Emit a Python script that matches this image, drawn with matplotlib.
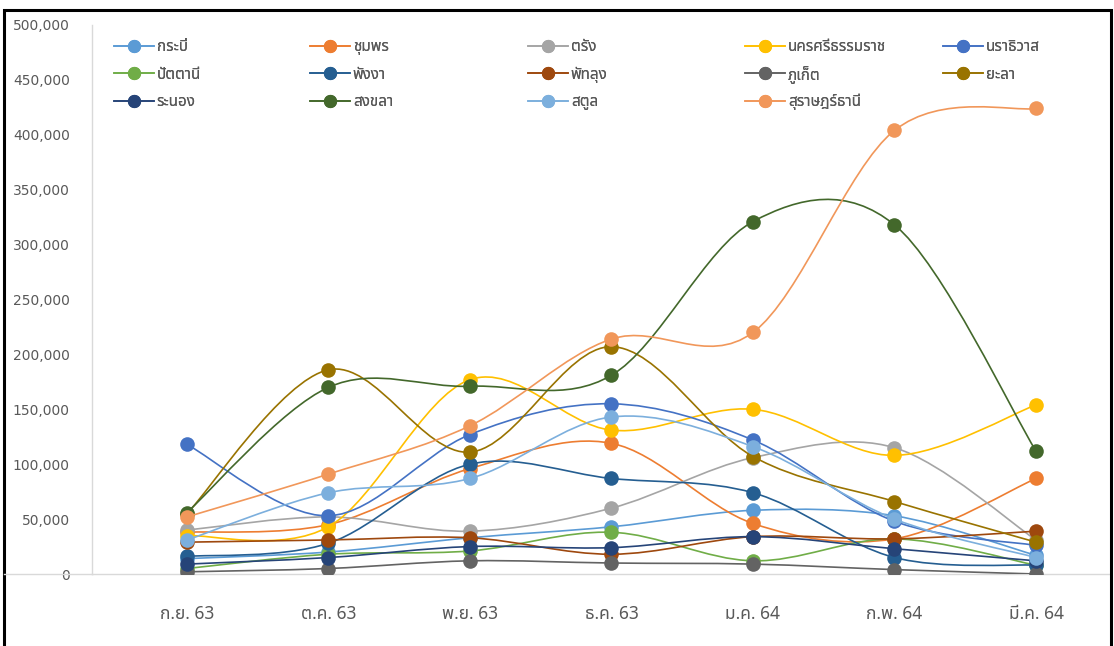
import matplotlib
matplotlib.use("Agg")
import matplotlib.pyplot as plt
from matplotlib import font_manager
from matplotlib.ft2font import FT2Font
from matplotlib.path import Path
from matplotlib.patches import PathPatch, Rectangle
from matplotlib.lines import Line2D
from matplotlib.ticker import FuncFormatter

# -----------------------------------------------------------------------------
# Data: monthly figures per province
# -----------------------------------------------------------------------------
months = ["ก.ย. 63", "ต.ค. 63", "พ.ย. 63", "ธ.ค. 63", "ม.ค. 64", "ก.พ. 64", "มี.ค. 64"]

provinces = ["กระบี่", "ชุมพร", "ตรัง", "นครศรีธรรมราช", "นราธิวาส",
             "ปัตตานี", "พังงา", "พัทลุง", "ภูเก็ต", "ยะลา",
             "ระนอง", "สงขลา", "สตูล", "สุราษฎร์ธานี"]

krabi = [14000, 20000, 33000, 43000, 58000, 53000, 17000]
chumphon = [38000, 45000, 96000, 119000, 46000, 32000, 87000]
trang = [40000, 52000, 39000, 60000, 106000, 115000, 31000]
nakhon_si = [35000, 43000, 177000, 131000, 150000, 108000, 154000]
narathiwat = [118000, 53000, 127000, 155000, 122000, 48000, 26000]
pattani = [5000, 18000, 21000, 38000, 12000, 32000, 8000]
phangnga = [16000, 28000, 100000, 87000, 74000, 15000, 8000]
phatthalung = [29000, 31000, 33000, 18000, 34000, 32000, 39000]
phuket = [2000, 5000, 12000, 10000, 9000, 4000, 0]
yala = [55000, 186000, 111000, 207000, 107000, 66000, 29000]
ranong = [9000, 15000, 25000, 24000, 34000, 23000, 12000]
songkhla = [56000, 170000, 171000, 181000, 321000, 318000, 112000]
satun = [31000, 74000, 87000, 143000, 116000, 50000, 15000]
surat = [52000, 91000, 135000, 214000, 220000, 404000, 424000]

series = [krabi, chumphon, trang, nakhon_si, narathiwat, pattani, phangnga,
          phatthalung, phuket, yala, ranong, songkhla, satun, surat]

colors = ["#5B9BD5", "#ED7D31", "#A5A5A5", "#FFC000", "#4472C4", "#70AD47",
          "#255E91", "#9E480E", "#636363", "#997300", "#264478", "#43682B",
          "#7CAFDD", "#F1975A"]


# -----------------------------------------------------------------------------
# Font with Thai glyphs
# -----------------------------------------------------------------------------
def thai_family():
    preferred = ["Tahoma", "Leelawadee UI", "Noto Sans Thai", "Noto Sans Thai UI",
                 "Noto Sans Thai Looped", "Loma", "Garuda", "Sarabun", "Kinnari"]
    found = {}
    for f in font_manager.fontManager.ttflist:
        try:
            if FT2Font(f.fname).get_char_index(ord("ก")):
                found.setdefault(f.name, f.fname)
        except Exception:
            pass
    for name in preferred:
        if name in found:
            return name
    return next(iter(found), "DejaVu Sans")


THAI = thai_family()
plt.rcParams["font.family"] = [THAI, "DejaVu Sans"]

TEXT = "#595959"
AXIS = "#D9D9D9"


def smooth_path(xs, ys):
    # Bezier segments through every point (Catmull-Rom style tangents)
    pts = list(zip(xs, ys))
    n = len(pts)
    verts = [pts[0]]
    codes = [Path.MOVETO]
    for i in range(n - 1):
        p0 = pts[max(i - 1, 0)]
        p1 = pts[i]
        p2 = pts[i + 1]
        p3 = pts[min(i + 2, n - 1)]
        c1 = (p1[0] + (p2[0] - p0[0]) / 6, p1[1] + (p2[1] - p0[1]) / 6)
        c2 = (p2[0] - (p3[0] - p1[0]) / 6, p2[1] - (p3[1] - p1[1]) / 6)
        verts += [c1, c2, p2]
        codes += [Path.CURVE4] * 3
    return Path(verts, codes)


W, H = 1114, 646
fig = plt.figure(figsize=(W / 100, H / 100), dpi=100)
ax = fig.add_axes([92 / W, (H - 574) / H, (1111 - 92) / W, (574 - 25) / H])

x = list(range(len(months)))
handles = []
for i, (name, vals, col) in enumerate(zip(provinces, series, colors)):
    z = 2 + i * 0.1
    ax.add_patch(PathPatch(smooth_path(x, vals), facecolor="none",
                           edgecolor=col, lw=1.2, zorder=z))
    ax.plot(x, vals, "o", color=col, ms=10.5, mec=col, mew=0, zorder=z + 0.05)
    handles.append(Line2D([], [], color=col, lw=1.2, marker="o", ms=9.5, mew=0))

ax.set_xlim(-0.671, 6.53)
ax.set_ylim(0, 500000)
ax.set_yticks(range(0, 500001, 50000))
ax.yaxis.set_major_formatter(FuncFormatter(lambda v, p: f"{v:,.0f}"))
ax.set_xticks(x)
ax.set_xticklabels(months)

ax.tick_params(axis="y", length=0, pad=16, labelsize=10, labelcolor=TEXT)
ax.tick_params(axis="x", length=0, pad=22, labelsize=12.5, labelcolor=TEXT)
for lab in ax.get_yticklabels():
    lab.set_family("DejaVu Sans")

for s in ["top", "right"]:
    ax.spines[s].set_visible(False)
ax.spines["left"].set_color(AXIS)
ax.spines["bottom"].set_color(AXIS)
ax.spines["left"].set_linewidth(1.0)
ax.spines["bottom"].set_linewidth(1.0)

# horizontal axis line runs on to the left edge of the frame
fig.add_artist(Line2D([4 / W, 92 / W], [(H - 574) / H] * 2, color=AXIS, lw=1.0))

# legend: a fixed grid of five columns by three rows, filled row by row
col_x = [114, 310, 528, 745, 943]
row_y = [46, 73.5, 101]
legends = []
for k, (h, name) in enumerate(zip(handles, provinces)):
    r, c = divmod(k, 5)
    anchor = (col_x[c] / W, (H - row_y[r]) / H)
    leg = fig.legend([h], [name], loc="center left", bbox_to_anchor=anchor,
                     frameon=False, fontsize=11, labelcolor=TEXT,
                     handlelength=2.6, handletextpad=0.2, borderpad=0,
                     borderaxespad=0)
    fig.add_artist(leg)
    legends.append((leg, anchor, H - row_y[r]))

# tall Thai marks change the entry height; put every handle on its row line
fig.canvas.draw()
renderer = fig.canvas.get_renderer()
for leg, anchor, target in legends:
    ext = leg.legend_handles[0].get_window_extent(renderer)
    dy = target - (ext.y0 + ext.y1) / 2
    if abs(dy) < 20:
        leg.set_bbox_to_anchor((anchor[0], anchor[1] + dy / H),
                               transform=fig.transFigure)

# black frame around the chart
fig.add_artist(Rectangle((3.5 / W, -0.05), (1111 - 3.5) / W, (H - 10) / H + 0.05,
                         transform=fig.transFigure, fill=False,
                         edgecolor="black", lw=2.2))

fig.savefig("out.png", dpi=100)
